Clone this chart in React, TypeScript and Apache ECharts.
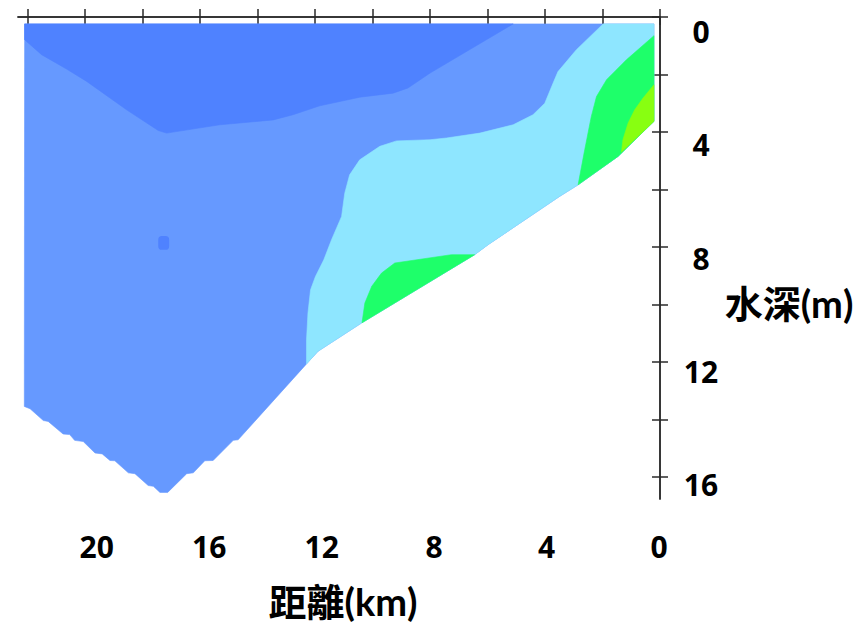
import React, { useEffect, useRef } from 'react';
import * as echarts from 'echarts';

// ---- axis ticks / labels ----
const xTickValues = [0, 2, 4, 6, 8, 10, 12, 14, 16, 18, 20, 22];
const yTickValues = [0, 2, 4, 6, 8, 10, 12, 14, 16];
const xLabelValues = [0, 4, 8, 12, 16, 20];
const yLabelValues = [0, 4, 8, 12, 16];
const xTitle = '距離(km)';
const yTitle = '水深(m)';

// ---- section geometry: [distance km, depth m] ----
const sectionOutline: number[][] = [
  [22.11, 0.24], [0.21, 0.24], [0.21, 3.63], [1.46, 4.85], [2.85, 5.84], [3.49, 6.24],
  [5.98, 7.92], [6.45, 8.27], [10.39, 10.65], [11.9, 11.63], [12.3, 12.07],
  [14.68, 14.71], [14.85, 14.73], [15.55, 15.43], [15.84, 15.44], [16.24, 15.86],
  [16.47, 15.89], [17.13, 16.54], [17.4, 16.54], [17.63, 16.33], [17.81, 16.3],
  [18.27, 15.89], [18.5, 15.86], [18.97, 15.44], [19.14, 15.43], [19.41, 15.2],
  [19.66, 15.17], [20.07, 14.77], [20.37, 14.73], [20.54, 14.53], [20.77, 14.51],
  [21.29, 14.07], [21.46, 14.04], [21.92, 13.63], [22.12, 13.55],
];

const darkBlueZone: number[][] = [
  [22.11, 0.24], [5.11, 0.24], [8.0, 1.95], [8.77, 2.47], [9.29, 2.65], [10.45, 2.79],
  [11.84, 3.09], [12.77, 3.4], [13.46, 3.58], [15.32, 3.75], [17.17, 4.04], [17.46, 3.95],
  [18.56, 3.23], [19.95, 2.24], [20.65, 1.81], [21.52, 1.31], [22.11, 0.79],
];

const cyanZone: number[][] = [
  [1.98, 0.24], [0.21, 0.24], [0.21, 3.63], [1.46, 4.85], [2.85, 5.84], [3.49, 6.24],
  [5.98, 7.92], [6.45, 8.27], [10.39, 10.65], [11.9, 11.63], [12.3, 12.07],
  [12.3, 11.23], [12.25, 10.3], [12.16, 9.49], [11.99, 9.03], [11.7, 8.45], [11.43, 7.75],
  [11.08, 6.94], [10.97, 6.13], [10.8, 5.49], [10.45, 4.97], [9.75, 4.5], [9.17, 4.31],
  [8.0, 4.27], [7.43, 4.21], [6.27, 4.04], [5.11, 3.75], [4.42, 3.4], [4.01, 3.0],
  [3.72, 2.3], [3.55, 1.9], [2.91, 1.14],
];

const greenShoreZone: number[][] = [
  [0.21, 0.65], [1.17, 1.49], [1.86, 2.18], [2.21, 2.77], [2.39, 3.46], [2.62, 4.62],
  [2.85, 5.84], [1.46, 4.85], [0.21, 3.63],
];

const yellowGreenZone: number[][] = [
  [0.21, 2.36], [0.59, 2.82], [0.88, 3.23], [1.11, 3.69], [1.29, 4.27], [1.34, 4.7],
  [0.21, 3.63],
];

const greenMidZone: number[][] = [
  [6.45, 8.27], [7.26, 8.27], [9.23, 8.56], [9.69, 8.91], [10.03, 9.37], [10.27, 9.95],
  [10.37, 10.64],
];

// small patch: [centre km, centre depth, half width km, half height m]
const darkBlueSpot = [17.27, 7.86, 0.19, 0.24];

const zones = [
  { points: sectionOutline, color: '#6699FF' },
  { points: darkBlueZone, color: '#4F82FF' },
  { points: cyanZone, color: '#8EE6FF' },
  { points: greenShoreZone, color: '#1EFF6A' },
  { points: yellowGreenZone, color: '#88FF11' },
  { points: greenMidZone, color: '#1EFF6A' },
];

const X_MAX = 22.34;
const Y_MAX = 16.77;
const TITLE_FONT = 'Lato, "Noto Sans CJK TC", sans-serif';
const DIGIT_FONT = '"Open Sans", "Noto Sans", sans-serif';
const AXIS_COLOR = '#2a2a2a';

export default function App() {
  const ref = useRef<HTMLDivElement>(null);

  useEffect(() => {
    if (!ref.current) return;
    const chart = echarts.init(ref.current, null, { renderer: 'svg' });

    const frameAxis = (extra: any, ticks: number[]) => ({
      type: 'value',
      gridIndex: 0,
      inverse: true,
      axisLine: { show: true, lineStyle: { color: AXIS_COLOR, width: 1.5 } },
      axisTick: { show: true, inside: false, length: 8, customValues: ticks, lineStyle: { color: AXIS_COLOR, width: 1.5 } },
      axisLabel: { show: false },
      splitLine: { show: false },
      ...extra,
    });

    const labelStyle = {
      fontFamily: DIGIT_FONT,
      fontWeight: 'bold',
      fontSize: 30,
      color: '#000',
    };

    const option: any = {
      animation: false,
      grid: [
        { left: 18, top: 17, width: 642, height: 482 },
        { left: 18, top: 17, width: 642, height: 482 },
      ],
      xAxis: [
        frameAxis({ position: 'bottom', min: 0, max: X_MAX }, xTickValues),
        frameAxis({ position: 'top', min: 0, max: X_MAX }, xTickValues),
        {
          type: 'value', gridIndex: 1, position: 'bottom', inverse: true,
          min: -0.035, max: 22.8,
          axisLine: { show: false }, axisTick: { show: false }, splitLine: { show: false },
          axisLabel: { show: true, customValues: xLabelValues, margin: 47, verticalAlign: 'middle', ...labelStyle },
        },
      ],
      yAxis: [
        frameAxis({ position: 'left', min: 0, max: Y_MAX }, yTickValues),
        frameAxis({ position: 'right', min: 0, max: Y_MAX }, yTickValues),
        {
          type: 'value', gridIndex: 1, position: 'right', inverse: true,
          min: -0.5, max: 16.5,
          axisLine: { show: false }, axisTick: { show: false }, splitLine: { show: false },
          axisLabel: { show: true, customValues: yLabelValues, margin: 41, align: 'center', ...labelStyle },
        },
      ],
      series: [
        {
          type: 'custom',
          xAxisIndex: 0,
          yAxisIndex: 0,
          clip: false,
          silent: true,
          data: zones.map((_, i) => [i * 0.001, 0]),
          encode: { x: 0, y: 1 },
          renderItem: (params: any, api: any) => {
            const zone = zones[params.dataIndex];
            const pts = zone.points.map((p) => api.coord(p));
            return {
              type: 'polygon',
              shape: { points: pts },
              style: { fill: zone.color, stroke: zone.color, lineWidth: 0.6 },
            };
          },
        },
        {
          type: 'custom',
          xAxisIndex: 0,
          yAxisIndex: 0,
          clip: false,
          silent: true,
          data: [[darkBlueSpot[0], darkBlueSpot[1]]],
          encode: { x: 0, y: 1 },
          renderItem: (_params: any, api: any) => {
            const [cx, cy, hw, hh] = darkBlueSpot;
            const a = api.coord([cx + hw, cy - hh]);
            const b = api.coord([cx - hw, cy + hh]);
            const w = Math.abs(b[0] - a[0]);
            const h = Math.abs(b[1] - a[1]);
            return {
              type: 'rect',
              shape: { x: Math.min(a[0], b[0]), y: Math.min(a[1], b[1]), width: w, height: h, r: Math.min(w, h) / 3 },
              style: { fill: '#4F82FF' },
            };
          },
        },
      ],
      graphic: [
        {
          type: 'text',
          x: 343,
          y: 601,
          style: {
            text: xTitle,
            fontFamily: TITLE_FONT,
            fontWeight: 'bold',
            fontSize: 38,
            fill: '#000',
            align: 'center',
            verticalAlign: 'middle',
            textAlign: 'center',
            textVerticalAlign: 'middle',
          },
        },
        {
          type: 'text',
          x: 789,
          y: 303,
          style: {
            text: yTitle,
            fontFamily: TITLE_FONT,
            fontWeight: 'bold',
            fontSize: 38,
            fill: '#000',
            align: 'center',
            verticalAlign: 'middle',
            textAlign: 'center',
            textVerticalAlign: 'middle',
          },
        },
      ],
    };

    chart.setOption(option);
    return () => chart.dispose();
  }, []);

  return (
    <div
      ref={ref}
      style={{ position: 'fixed', left: 0, top: 0, width: 860, height: 623, background: '#fff' }}
    />
  );
}
